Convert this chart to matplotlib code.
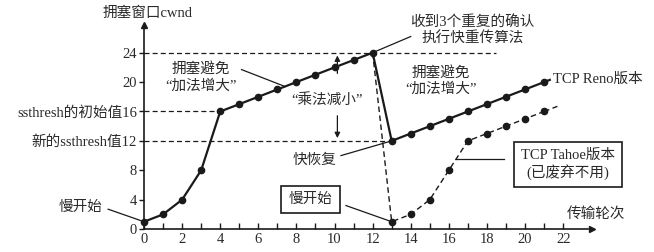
import matplotlib
matplotlib.use("Agg")
import matplotlib.pyplot as plt
import numpy as np

plt.rcParams['font.family'] = ['Liberation Serif', 'Noto Sans CJK SC']
plt.rcParams['axes.unicode_minus'] = False

# ---- data ----
reno_rounds = list(range(0, 22))
reno_cwnd = [1, 2, 4, 8, 16, 17, 18, 19, 20, 21, 22, 23, 24,
             12, 13, 14, 15, 16, 17, 18, 19, 20]
tahoe_rounds = [12, 13, 14, 15, 16, 17, 18, 19, 20, 21]
tahoe_cwnd = [24, 1, 2, 4, 8, 12, 13, 14, 15, 16]
x_ticks = list(range(0, 23))
x_tick_labels = [str(v) if v % 2 == 0 else '' for v in x_ticks]
y_ticks = [0, 4, 8, 12, 16, 20, 24]
y_tick_labels = ['0', '4', '8', '新的ssthresh值12', 'ssthresh的初始值16', '20', '24']
ssthresh_init = 16
ssthresh_new = 12
peak = 24

C = '#1a1a1a'
TC = '#2a2a2a'
FS = 10.5

fig = plt.figure(figsize=(6.54, 2.52), dpi=100)
ax = fig.add_axes([0, 0, 1, 1])
ax.set_xlim(-7.56, 26.77)
ax.set_ylim(-3.12, 31.17)

for s in ['top', 'right']:
    ax.spines[s].set_visible(False)
ax.spines['left'].set_position(('data', 0))
ax.spines['bottom'].set_position(('data', 0))
ax.spines['left'].set_bounds(0, 27.5)
ax.spines['bottom'].set_bounds(0, 23.3)
for s in ['left', 'bottom']:
    ax.spines[s].set_color(C)
    ax.spines[s].set_linewidth(1.2)
# axis arrows
ax.plot([0], [27.8], marker='^', color=C, markersize=5, clip_on=False)
ax.plot([23.5], [0], marker='>', color=C, markersize=5, clip_on=False)

ax.set_xticks(x_ticks)
ax.set_xticklabels(x_tick_labels)
ax.set_yticks(y_ticks)
ax.set_yticklabels(y_tick_labels)
ax.tick_params(axis='x', direction='in', length=4, width=1, color=C,
               pad=3, labelsize=FS, labelcolor=TC)
ax.tick_params(axis='y', direction='out', length=3.5, width=1, color=C,
               pad=1.5, labelsize=FS, labelcolor=TC)

# dashed reference lines
dash = dict(color=C, lw=0.9, ls=(0, (4, 2.5)))
ax.plot([0, 18.45], [peak, peak], **dash)
ax.plot([0, reno_rounds[reno_cwnd.index(ssthresh_init)]], [ssthresh_init] * 2, **dash)
ax.plot([0, 13], [ssthresh_new, ssthresh_new], **dash)

# Tahoe (dashed)
ax.plot(tahoe_rounds, tahoe_cwnd, color=C, lw=1.0, ls=(0, (4, 2.5)),
        marker='o', markersize=4.5, markevery=list(range(1, len(tahoe_rounds))))
slope_t = tahoe_cwnd[-1] - tahoe_cwnd[-2]
ax.plot([tahoe_rounds[-1], tahoe_rounds[-1] + 0.7],
        [tahoe_cwnd[-1], tahoe_cwnd[-1] + 0.7 * slope_t], color=C, lw=1.0, ls=(0, (4, 2.5)))

# Reno (solid)
ax.plot(reno_rounds, reno_cwnd, color=C, lw=1.6, marker='o', markersize=4.5)
slope_r = reno_cwnd[-1] - reno_cwnd[-2]
ax.plot([reno_rounds[-1], reno_rounds[-1] + 0.3],
        [reno_cwnd[-1], reno_cwnd[-1] + 0.3 * slope_r], color=C, lw=1.6)

# multiplicative decrease double arrow
xa = 10.15
ax.annotate('', xy=(xa, peak), xytext=(xa, 20.8),
            arrowprops=dict(arrowstyle='-|>', color=C, lw=0.9, mutation_scale=8))
ax.annotate('', xy=(xa, ssthresh_new), xytext=(xa, 15.8),
            arrowprops=dict(arrowstyle='-|>', color=C, lw=0.9, mutation_scale=8))
ax.text(9.6, 17.5, '“乘法减小”', ha='center', va='center', fontsize=FS, color=TC)

line = dict(color=C, lw=0.9)

ax.text(0.2, 29.3, '拥塞窗口cwnd', ha='center', va='center', fontsize=FS, color=TC)
ax.text(17.24, 27.0, '收到3个重复的确认\n执行快重传算法', ha='center', va='center',
        fontsize=FS, color=TC, linespacing=1.25)
ax.plot([14.0, 12], [26.2, peak], **line)

ax.text(2.98, 20.6, '拥塞避免\n“加法增大”', ha='center', va='center',
        fontsize=FS, color=TC, linespacing=1.2)
ax.plot([5.12, 7.4], [21.7, 19.4], **line)

ax.text(15.57, 20.1, '拥塞避免\n“加法增大”', ha='center', va='center',
        fontsize=FS, color=TC, linespacing=1.2)
ax.text(21.47, 20.4, 'TCP Reno版本', ha='left', va='center', fontsize=FS, color=TC)

ax.text(8.94, 9.4, '快恢复', ha='center', va='center', fontsize=FS, color=TC)
ax.plot([10.34, 13], [10.0, ssthresh_new], **line)

ax.text(8.73, 4.0, '慢开始', ha='center', va='center', fontsize=FS, color=TC,
        bbox=dict(boxstyle='square,pad=0.5', fc='white', ec=C, lw=1.2))
ax.plot([10.6, 13], [3.2, 1], **line)

ax.text(-3.34, 2.9, '慢开始', ha='center', va='center', fontsize=FS, color=TC)
ax.plot([-1.88, 0], [2.7, 1], **line)

ax.text(22.26, 8.8, 'TCP Tahoe版本\n(已废弃不用)', ha='center', va='center',
        fontsize=FS, color=TC, linespacing=1.2,
        bbox=dict(boxstyle='square,pad=0.5', fc='white', ec=C, lw=1.2))
ax.plot([18.9, 16.4], [9.6, 9.6], **line)

ax.text(23.7, 2.1, '传输轮次', ha='center', va='center', fontsize=FS, color=TC)

fig.savefig('out.png', dpi=100, facecolor='white')
